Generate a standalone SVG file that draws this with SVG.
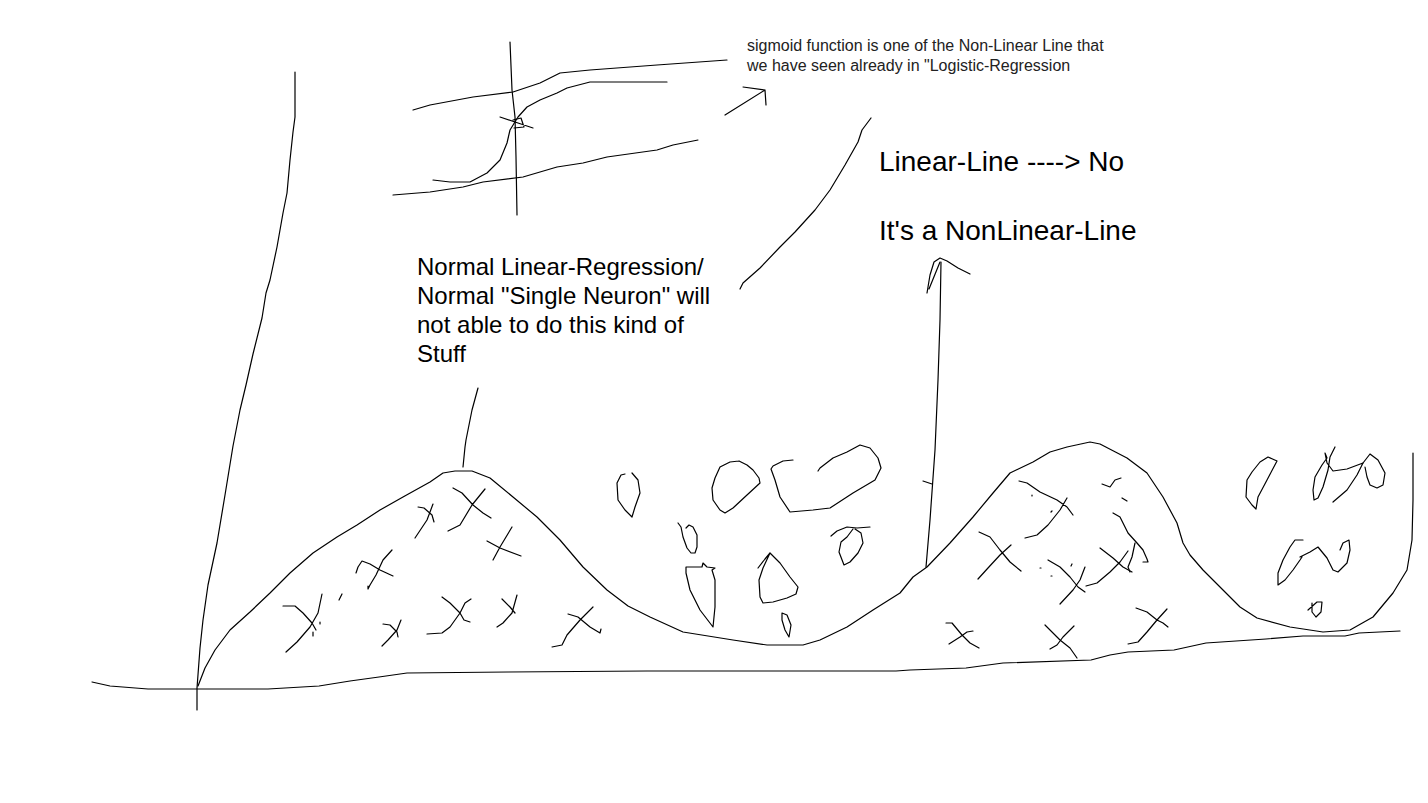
<svg xmlns="http://www.w3.org/2000/svg" width="1428" height="803" viewBox="0 0 1428 803">
<style>
.s{fill:none;stroke:#000;stroke-width:1.2;stroke-linejoin:round;stroke-linecap:round}
.t{font-family:"Liberation Sans",Arial,sans-serif;fill:#000}
.small{fill:#222}
</style>
<rect width="1428" height="803" fill="#fff"/>
<g id="axes" class="s">
<path d="M295,72 L295,117 L293,132 L290,160 L287,193 L283,213 L277,247 L270,280 L266,293 L262,318 L253,354 L246,385 L240,410 L233,446 L225,495 L217,543 L208,585 L203,620 L200,648 L197,688 L197,710"/>
<path d="M92,682 L110,686 L148,689 L268,689 L319,686 L350,681 L379,677 L407,673 L508,672 L647,671 L896,671 L910,670 L966,668 L1003,663 L1091,660 L1110,655 L1128,652 L1174,650 L1206,643 L1266,639 L1303,636 L1345,636 L1359,633 L1400,631"/>
</g>
<g id="curve" class="s">
<path d="M198,686 L205,668 L215,650 L230,630 L250,612 L270,593 L290,573 L313,553 L337,537 L357,525 L380,510 L403,497 L430,482 L443,473 L455,471 L472,471 L490,478 L513,497 L537,517 L560,540 L583,567 L607,590 L628,606 L650,617 L683,632 L733,640 L767,645 L803,645 L820,640 L847,627 L873,610 L900,593 L913,577 L927,567 L950,543 L973,517 L993,493 L1010,473 L1033,462 L1050,452 L1067,447 L1090,442 L1100,444 L1127,458 L1147,473 L1163,497 L1177,523 L1183,543 L1190,555 L1203,570 L1223,590 L1240,607 L1257,618 L1290,627 L1323,632 L1350,630 L1373,617 L1393,593 L1407,570 L1412,540 L1413,500 L1413,453"/>
<path d="M478,388 L472,410 L470,420 L466,440 L465,447 L463,467"/>
</g>
<g id="sigmoid-sketch" class="s">
<path d="M510,42 L512,90 L515,117 L516,157 L517,215"/>
<path d="M413,110 L430,105 L473,97 L513,92 L540,83 L560,73 L590,70 L657,65 L727,60"/>
<path d="M433,180 L450,182 L470,182 L487,173 L500,160 L507,143 L510,130 L518,117 L527,107 L540,100 L557,93 L567,88 L590,82 L667,82"/>
<path d="M393,195 L430,192 L463,187 L483,182 L523,177 L557,167 L583,163 L607,157 L657,150 L673,145 L698,140"/>
<path d="M500,117 L518,123 L533,128 M513,120 L521,118 L524,127 L514,128"/>
<path d="M725,115 L765,90 M743,87 L765,90 L766,105"/>
</g>
<g id="annotation-lines" class="s">
<path d="M740,289 L743,283 L760,268 L780,247 L795,232 L815,210 L830,190 L845,165 L858,142 L862,130 L871,118"/>
<path d="M926,567 L930,520 L935,450 L938,380 L940,320 L941,262"/>
<path d="M927,293 L930,275 L934,262 L940,258 L947,261 L958,268 L970,274 M929,289 L940,262"/>
<path d="M923,481 L932,484"/>
</g>
<g id="crosses-left" class="s">
<path d="M418,507 L424,508 L432,515 L434,522 M433,504 L427,520 L415,538"/>
<path d="M453,488 L462,493 L473,505 L483,513 L491,518 M485,489 L472,505 L460,525 L448,531"/>
<path d="M487,541 L500,548 L521,556 M512,527 L500,547 L493,560"/>
<path d="M356,573 L358,567 L362,561 L370,564 L380,570 L393,576 M392,550 L383,560 L376,575 L370,585 L368,589 L368,586"/>
<path d="M283,606 L295,606 L303,613 L312,623 L316,630 M322,594 L318,613 L310,627 L297,642 L286,652 M320,622 L320,624 M313,632 L313,636 M342,594 L339,600"/>
<path d="M383,624 L390,625 L397,632 L398,637 M401,620 L397,630 L388,640 L382,646"/>
<path d="M442,597 L450,603 L460,613 L464,620 L470,622 M471,599 L465,603 L460,613 L450,627 L442,633 L427,634"/>
<path d="M502,599 L510,607 L515,613 M517,595 L512,613 L503,623 L497,627"/>
<path d="M568,614 L578,617 L590,627 L600,633 L601,629 M593,607 L580,620 L567,635 L562,645 L552,647"/>
</g>
<g id="circles-middle" class="s">
<path d="M632,517 L625,510 L618,500 L617,483 L621,475 L625,474 M632,473 L638,480 L640,493 L635,507 L632,517"/>
<path d="M678,523 L681,527 L683,537 L687,548 L691,553 L695,553 L697,547 L697,535 L693,527 L689,525 L686,528"/>
<path d="M686,567 L702,567 L703,563 L707,567 L715,568 L712,570 L715,580 L715,607 L713,627 L700,610 L690,590 L686,573 Z"/>
<path d="M739,461 L730,462 L720,467 L715,478 L712,488 L713,500 L720,510 L725,513 L733,508 L747,495 L760,483 L759,478 L753,470 L747,465 L739,461"/>
<path d="M793,460 L783,461 L773,466 L771,469 L775,480 L780,497 L790,512 L813,510 L830,508 L853,493 L875,480 L881,468 L878,458 L870,448 L860,445 L847,452 L833,458 L820,468 L818,471"/>
<path d="M831,536 L837,531 L847,527 L857,528 L870,527 M853,529 L847,537 L841,542 L839,552 L844,565 L850,562 L858,553 L863,543 L861,533 L855,529"/>
<path d="M765,559 L770,553 M758,568 L765,559 M770,553 L780,563 L790,577 L798,587 L796,594 L787,598 L773,602 L763,603 L760,597 L759,580 L763,568 L770,553"/>
<path d="M782,613 L787,615 L791,625 L789,637 L785,630 L782,620 L782,613"/>
</g>
<g id="crosses-right" class="s">
<path d="M1019,481 L1027,483 L1040,492 L1057,500 L1067,507 L1073,515 M1067,498 L1060,510 L1048,525 L1037,535 L1025,538 M1032,495 L1032,496 M1052,511 L1051,512"/>
<path d="M979,532 L990,537 L1000,550 L1010,562 L1021,571 M1011,545 L1000,555 L988,568 L978,579"/>
<path d="M1048,560 L1060,567 L1070,577 L1078,587 L1085,592 M1085,567 L1080,580 L1073,590 L1060,604 M1040,568 L1041,568 M1051,576 L1052,576 M1071,566 L1072,564"/>
<path d="M1100,548 L1113,558 L1123,567 L1132,572 M1128,551 L1120,562 L1110,572 L1097,583 L1086,586"/>
<path d="M1113,513 L1120,517 L1128,533 L1137,543 L1143,550 L1147,559 L1148,562 L1143,562 M1135,543 L1132,557 L1128,567 L1130,572"/>
<path d="M1102,484 L1110,487 L1115,480 L1121,478 M1122,498 L1127,501"/>
<path d="M946,623 L952,623 L962,635 L970,643 L979,648 M973,631 L967,632 L960,637 L949,644"/>
<path d="M1045,625 L1060,640 L1070,648 L1077,658 M1074,626 L1063,637 L1057,645 L1050,649"/>
<path d="M1136,608 L1147,612 L1157,620 L1163,623 L1168,627 M1167,609 L1157,620 L1147,632 L1138,642 L1128,644"/>
</g>
<g id="circles-right" class="s">
<path d="M1277,461 L1268,457 L1260,462 L1252,472 L1247,480 L1246,497 L1252,505 L1256,509 L1258,497 L1267,480 L1277,461"/>
<path d="M1335,447 L1330,457 L1328,470 L1323,487 L1318,498 L1314,500 L1313,490 L1315,477 L1322,465 L1327,458 L1325,453 L1327,463 L1333,471 L1347,469 L1363,463 L1357,475 L1347,490 L1333,502"/>
<path d="M1363,463 L1370,454 L1378,460 L1385,473 L1383,485 L1377,488 L1370,485 L1367,477 L1365,467"/>
<path d="M1303,540 L1295,540 L1290,547 L1283,560 L1278,573 L1278,585 L1285,580 L1293,570 L1300,560 L1302,557 M1300,557 L1310,552 L1318,547 L1327,558 L1333,570 L1338,572 L1347,563 L1350,550 L1349,540 L1343,543 L1340,550"/>
<path d="M1308,610 L1317,602 L1322,602 L1321,612 L1316,617 L1312,612 L1312,603"/>
</g>
<g id="labels" class="t">
<text class="small" x="747" y="51" font-size="16">sigmoid function is one of the Non-Linear Line that</text>
<text class="small" x="747" y="71" font-size="16">we have seen already in "Logistic-Regression</text>
<text x="879" y="171" font-size="28">Linear-Line ----&gt; No</text>
<text x="879" y="240" font-size="28">It's a NonLinear-Line</text>
<text x="417" y="275" font-size="24">Normal Linear-Regression/</text>
<text x="417" y="304" font-size="24">Normal "Single Neuron" will</text>
<text x="417" y="333" font-size="24">not able to do this kind of</text>
<text x="417" y="362" font-size="24">Stuff</text>
</g>
</svg>
